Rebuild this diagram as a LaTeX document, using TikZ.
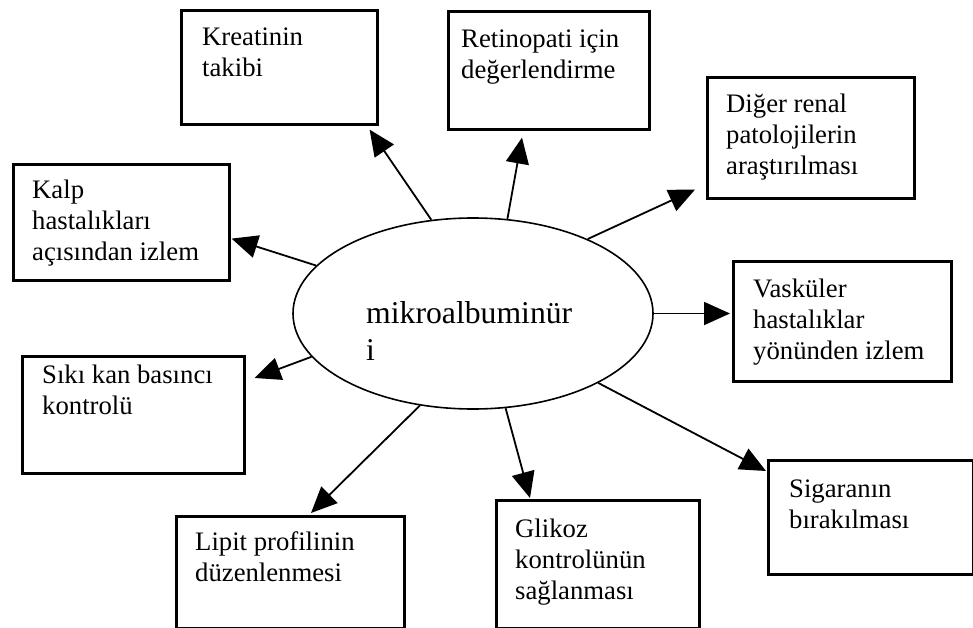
\documentclass[tikz,border=0pt]{standalone}
\usepackage{fontspec}
\setmainfont{Liberation Serif}
\usetikzlibrary{arrows.meta,calc,shapes.geometric}
\newcommand\firststrut{\rule{0pt}{24pt}}
\tikzset{
  boxnode/.style={draw=black, line width=2.6pt, rectangle, inner sep=0pt, anchor=north west},
  boxtext/.style={anchor=north west, inner sep=0pt, align=left,
    font=\fontsize{26.7pt}{31pt}\selectfont},
  conn/.style={line width=1.8pt, -{Triangle[length=26pt,width=23pt]}},
}
\begin{document}
\begin{tikzpicture}[x=1pt,y=-1pt]
\useasboundingbox (0,0) rectangle (973,628);
% central ellipse
\node[ellipse, draw=black, line width=1.6pt, minimum width=360pt, minimum height=191pt, inner sep=0pt] (ell) at (473,313.5) {};
\node[anchor=north west, inner sep=0pt, align=left, font=\fontsize{31.7pt}{37pt}\selectfont] (mtext) at (366,{323-28}) {\rule{0pt}{28pt}mikroalbuminür\\i};
% boxes
\node[boxnode, minimum width=196pt, minimum height=114pt] (kre) at (180,9) {};
\node[boxnode, minimum width=201pt, minimum height=118pt] (ret) at (447,10) {};
\node[boxnode, minimum width=207pt, minimum height=121pt] (dig) at (706,76) {};
\node[boxnode, minimum width=216pt, minimum height=116pt] (kalp) at (12,163) {};
\node[boxnode, minimum width=218pt, minimum height=120pt] (vas) at (732,260) {};
\node[boxnode, minimum width=222pt, minimum height=117pt] (siki) at (21,355) {};
\node[boxnode, minimum width=228pt, minimum height=112pt] (lip) at (175,515) {};
\node[boxnode, minimum width=203pt, minimum height=128pt] (gli) at (495,499) {};
\node[boxnode, minimum width=205pt, minimum height=114pt] (sig) at (767,459) {};
% texts
\node[boxtext] (kret) at (202,{45-24}) {\firststrut Kreatinin\\takibi};
\node[boxtext] (rett) at (461,{47-24}) {\firststrut Retinopati için\\değerlendirme};
\node[boxtext] (digt) at (726,{112-24}) {\firststrut Diğer renal\\patolojilerin\\araştırılması};
\node[boxtext] (kalpt) at (32,{198-24}) {\firststrut Kalp\\hastalıkları\\açısından izlem};
\node[boxtext] (vast) at (753,{297-24}) {\firststrut Vasküler\\hastalıklar\\yönünden izlem};
\node[boxtext] (sikit) at (42,{383-24}) {\firststrut Sıkı kan basıncı\\kontrolü};
\node[boxtext] (lipt) at (195,{550-24}) {\firststrut Lipit profilinin\\düzenlenmesi};
\node[boxtext] (glit) at (515,{537-24}) {\firststrut Glikoz\\kontrolünün\\sağlanması};
\node[boxtext] (sigt) at (789,{497-24}) {\firststrut Sigaranın\\bırakılması};
% connectors
\draw[conn] (ell.114) -- ($(kre.south east)+(-9,4)$);
\draw[conn] (ell.70.6) -- ($(ret.south west)+(75,7)$);
\draw[conn] (ell.33) -- ($(dig.south west)+(-11,-10)$);
\draw[conn] (ell.163) -- ($(kalp.south east)+(1,-43)$);
\draw[conn] (ell.east) -- ($(ell.east -| vas.west)+(-2,0)$);
\draw[conn] (ell.195) -- ($(siki.north east)+(9,23)$);
\draw[conn] (ell.240) -- ($(lip.north west)+(136,-2)$);
\draw[conn] (ell.289.6) -- ($(gli.north west)+(35,-1)$);
\draw[conn] (ell.331.4) -- ($(sig.north west)+(-1,12)$);
\end{tikzpicture}
\end{document}
